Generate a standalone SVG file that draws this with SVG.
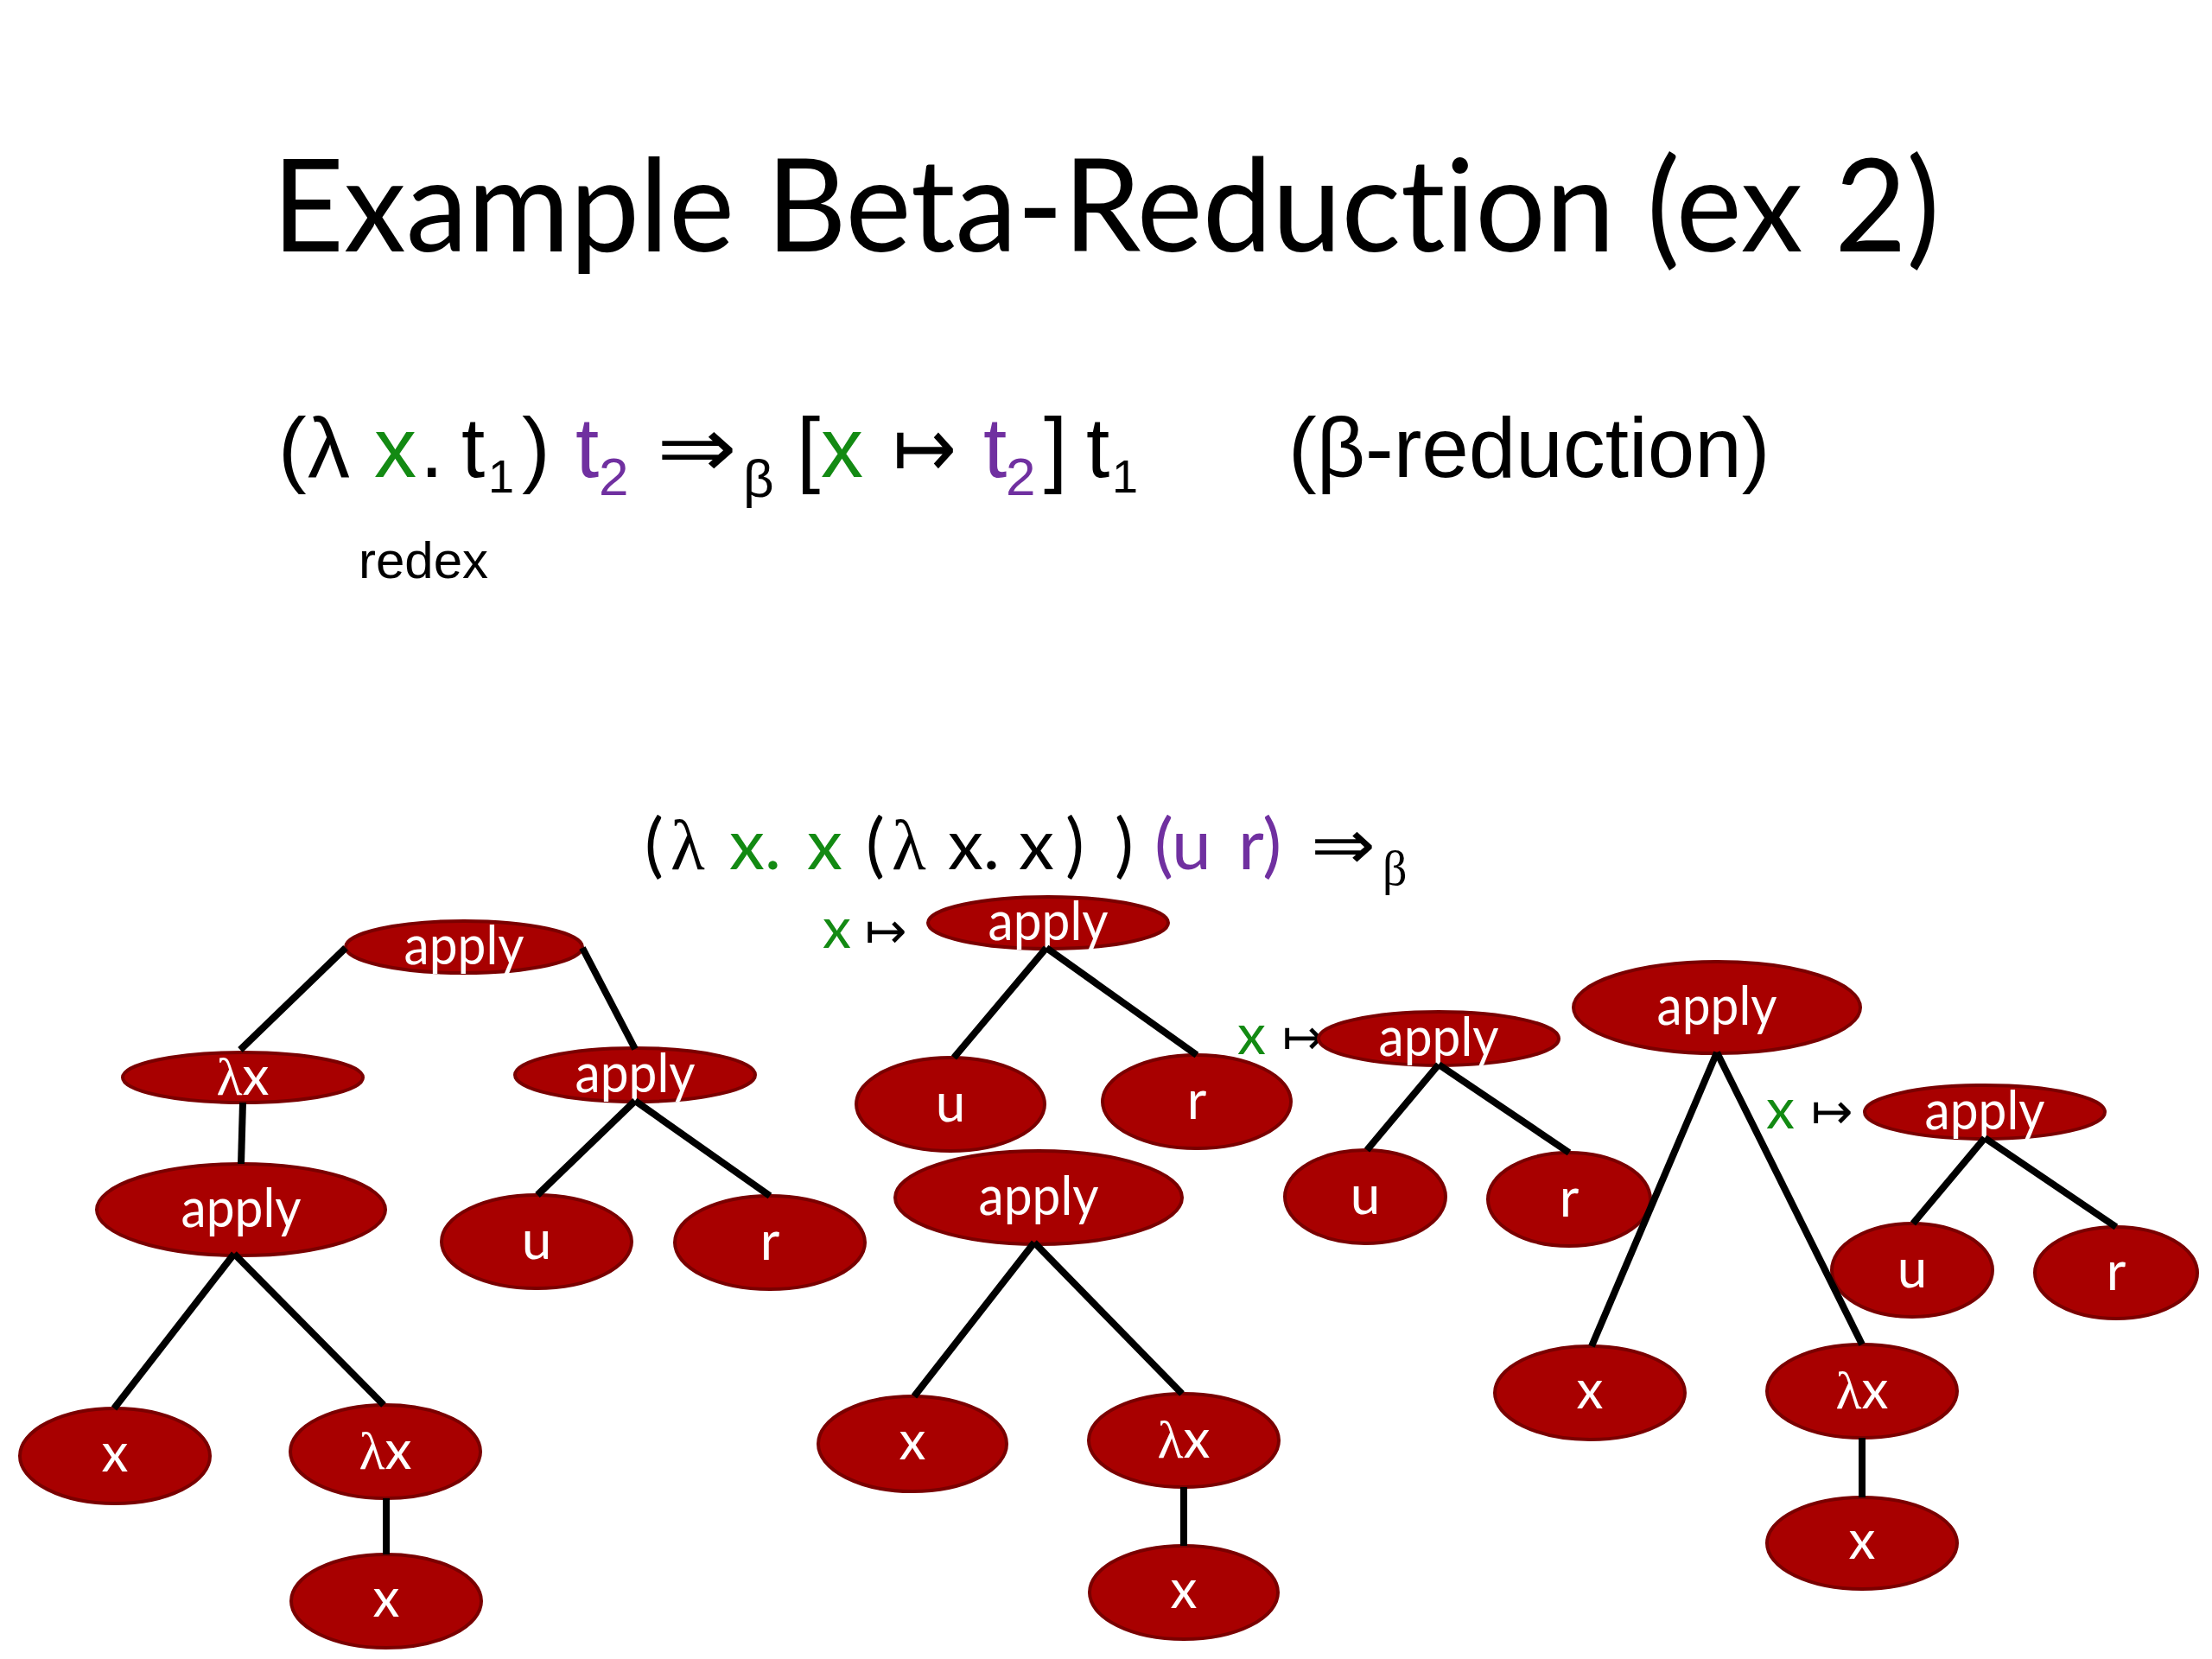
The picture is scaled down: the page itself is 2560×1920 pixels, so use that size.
<svg xmlns="http://www.w3.org/2000/svg" width="2560" height="1920" viewBox="0 0 2560 1920">
<style>
.bg{fill:#ffffff}
text{font-variant-ligatures:none}
.title{font-family:Lato,"Open Sans","DejaVu Sans",sans-serif;font-size:150px;fill:#000}
.f1{font-family:"Liberation Sans",Arial,"DejaVu Sans",sans-serif;font-size:98px;fill:#000}
.sub{font-size:62px}
.sub1{font-size:54px}
.f2{font-family:Lato,"Open Sans","DejaVu Sans",sans-serif;font-size:82px;fill:#000}
.sym{font-family:"DejaVu Sans",sans-serif;fill:#000}
.lam{font-family:"Liberation Serif","DejaVu Serif",serif}
.g{fill:#138a13}
.p{fill:#7030a0}
.redex{font-family:"Liberation Sans",Arial,sans-serif;font-size:60px;fill:#000}
.node ellipse{fill:#a80000;stroke:#7a0000;stroke-width:4}
.node text{font-family:Lato,"Open Sans","DejaVu Sans",sans-serif;font-size:62px;fill:#ffffff;text-anchor:middle}
.lbl{font-family:Lato,"Open Sans","DejaVu Sans",sans-serif;font-size:66px}
.arr{font-family:"DejaVu Sans",sans-serif;font-size:58px;fill:#000}
.edges line{stroke:#000;stroke-width:8;stroke-linecap:butt}
</style>
<rect class="bg" x="0" y="0" width="2560" height="1920"/>

<text class="title" x="315" y="291" textLength="1930" lengthAdjust="spacingAndGlyphs">Example Beta-Reduction (ex 2)</text>

<g id="rule">
<text class="f1" y="552"><tspan x="322">(</tspan><tspan x="356">λ</tspan><tspan x="433" class="g">x</tspan><tspan x="486">.</tspan><tspan x="534">t</tspan><tspan x="565" y="570" class="sub1">1</tspan><tspan x="604" y="552">)</tspan><tspan x="666" class="p">t</tspan><tspan x="693" y="573" class="sub p">2</tspan><tspan x="922" y="552">[</tspan><tspan x="950" class="g">x</tspan><tspan x="1138" class="p">t</tspan><tspan x="1164" y="573" class="sub p">2</tspan><tspan x="1208" y="552">]</tspan><tspan x="1257">t</tspan><tspan x="1287" y="570" class="sub1">1</tspan></text>
<text class="sym" x="760" y="552" font-size="98" textLength="93" lengthAdjust="spacingAndGlyphs">⇒</text>
<text class="f1 sub" x="860" y="575">β</text>
<text class="sym" x="1033" y="552" font-size="98" textLength="74" lengthAdjust="spacingAndGlyphs">↦</text>
<text class="f1" x="1491" y="552">(β-reduction)</text>
<text class="redex" x="415" y="669">redex</text>
</g>

<g id="expr">
<text class="f2" y="1006"><tspan x="746">(</tspan><tspan x="776" class="lam">λ</tspan><tspan x="844" class="g">x.</tspan><tspan x="934" class="g">x</tspan><tspan x="1002">(</tspan><tspan x="1032" class="lam">λ</tspan><tspan x="1097">x.</tspan><tspan x="1179">x</tspan><tspan x="1233">)</tspan><tspan x="1290">)</tspan><tspan x="1336" class="p">(u</tspan><tspan x="1433" class="p">r)</tspan><tspan x="1600" y="1024" font-size="56" class="lam">β</tspan></text>
<text class="sym" x="1517" y="1006" font-size="82" textLength="75" lengthAdjust="spacingAndGlyphs">⇒</text>
</g>

<g id="labels">
<text y="1097"><tspan x="952" class="lbl g">x</tspan><tspan x="1001" class="arr">↦</tspan></text>
<text y="1220"><tspan x="1432" class="lbl g">x</tspan><tspan x="1484" class="arr">↦</tspan></text>
<text y="1306"><tspan x="2044" class="lbl g">x</tspan><tspan x="2096" class="arr">↦</tspan></text>
</g>

<g id="nodes">
<g id="t1-apply" class="node"><ellipse cx="537" cy="1096" rx="137" ry="30"/><text x="537" y="1116" textLength="139" lengthAdjust="spacingAndGlyphs">apply</text></g>
<g id="t1-lam" class="node"><ellipse cx="281" cy="1247" rx="139" ry="29"/><text x="281" y="1267"><tspan class="lam">λ</tspan>x</text></g>
<g id="t1-apply2" class="node"><ellipse cx="735" cy="1244" rx="139" ry="31"/><text x="735" y="1264" textLength="139" lengthAdjust="spacingAndGlyphs">apply</text></g>
<g id="t1-apply3" class="node"><ellipse cx="279" cy="1400" rx="167" ry="53"/><text x="279" y="1420" textLength="139" lengthAdjust="spacingAndGlyphs">apply</text></g>
<g id="t1-u" class="node"><ellipse cx="621" cy="1437" rx="110" ry="54"/><text x="621" y="1457">u</text></g>
<g id="t1-r" class="node"><ellipse cx="891" cy="1438" rx="110" ry="54"/><text x="891" y="1458">r</text></g>
<g id="t1-x" class="node"><ellipse cx="133" cy="1685" rx="110" ry="55"/><text x="133" y="1703">x</text></g>
<g id="t1-lam2" class="node"><ellipse cx="446" cy="1680" rx="110" ry="54"/><text x="446" y="1700"><tspan class="lam">λ</tspan>x</text></g>
<g id="t1-x2" class="node"><ellipse cx="447" cy="1853" rx="110" ry="54"/><text x="447" y="1871">x</text></g>

<g id="t2-apply" class="node"><ellipse cx="1213" cy="1068" rx="139" ry="30"/><text x="1213" y="1088" textLength="139" lengthAdjust="spacingAndGlyphs">apply</text></g>
<g id="t2-u" class="node"><ellipse cx="1100" cy="1278" rx="109" ry="54"/><text x="1100" y="1298">u</text></g>
<g id="t2-r" class="node"><ellipse cx="1385" cy="1275" rx="109" ry="54"/><text x="1385" y="1295">r</text></g>

<g id="t3-apply" class="node"><ellipse cx="1202" cy="1386" rx="166" ry="54"/><text x="1202" y="1406" textLength="139" lengthAdjust="spacingAndGlyphs">apply</text></g>
<g id="t3-x" class="node"><ellipse cx="1056" cy="1671" rx="109" ry="55"/><text x="1056" y="1689">x</text></g>
<g id="t3-lam" class="node"><ellipse cx="1370" cy="1667" rx="110" ry="54"/><text x="1370" y="1687"><tspan class="lam">λ</tspan>x</text></g>
<g id="t3-x2" class="node"><ellipse cx="1370" cy="1843" rx="109" ry="54"/><text x="1370" y="1861">x</text></g>

<g id="t4-apply" class="node"><ellipse cx="1665" cy="1202" rx="139" ry="31"/><text x="1665" y="1222" textLength="139" lengthAdjust="spacingAndGlyphs">apply</text></g>
<g id="t4-u" class="node"><ellipse cx="1580" cy="1385" rx="93" ry="54"/><text x="1580" y="1405">u</text></g>
<g id="t4-r" class="node"><ellipse cx="1816" cy="1388" rx="94" ry="54"/><text x="1816" y="1408">r</text></g>

<g id="t5-apply" class="node"><ellipse cx="1987" cy="1166" rx="166" ry="53"/><text x="1987" y="1186" textLength="139" lengthAdjust="spacingAndGlyphs">apply</text></g>
<g id="t5-x" class="node"><ellipse cx="1840" cy="1612" rx="110" ry="54"/><text x="1840" y="1630">x</text></g>
<g id="t5-lam" class="node"><ellipse cx="2155" cy="1610" rx="110" ry="54"/><text x="2155" y="1630"><tspan class="lam">λ</tspan>x</text></g>
<g id="t5-x2" class="node"><ellipse cx="2155" cy="1786" rx="110" ry="53"/><text x="2155" y="1804">x</text></g>

<g id="t6-apply" class="node"><ellipse cx="2297" cy="1287" rx="139" ry="31"/><text x="2297" y="1307" textLength="139" lengthAdjust="spacingAndGlyphs">apply</text></g>
<g id="t6-u" class="node"><ellipse cx="2213" cy="1470" rx="93" ry="54"/><text x="2213" y="1490">u</text></g>
<g id="t6-r" class="node"><ellipse cx="2449" cy="1473" rx="94" ry="53"/><text x="2449" y="1493">r</text></g>
</g>

<g id="connectors" class="edges">
<line x1="400" y1="1097" x2="278" y2="1215"/>
<line x1="674" y1="1097" x2="735" y2="1214"/>
<line x1="281" y1="1276" x2="279" y2="1347"/>
<line x1="271" y1="1451" x2="132" y2="1630"/>
<line x1="271" y1="1451" x2="444" y2="1626"/>
<line x1="735" y1="1274" x2="622" y2="1383"/>
<line x1="735" y1="1274" x2="891" y2="1384"/>
<line x1="447" y1="1734" x2="447" y2="1799"/>

<line x1="1211" y1="1097" x2="1104" y2="1224"/>
<line x1="1211" y1="1097" x2="1385" y2="1221"/>

<line x1="1197" y1="1438" x2="1058" y2="1616"/>
<line x1="1197" y1="1438" x2="1368" y2="1613"/>
<line x1="1370" y1="1721" x2="1370" y2="1789"/>

<line x1="1665" y1="1232" x2="1582" y2="1331"/>
<line x1="1665" y1="1232" x2="1816" y2="1334"/>

<line x1="1987" y1="1218" x2="1842" y2="1558"/>
<line x1="1987" y1="1218" x2="2155" y2="1556"/>
<line x1="2155" y1="1664" x2="2155" y2="1733"/>

<line x1="2297" y1="1317" x2="2214" y2="1416"/>
<line x1="2297" y1="1317" x2="2449" y2="1420"/>
</g>
</svg>
